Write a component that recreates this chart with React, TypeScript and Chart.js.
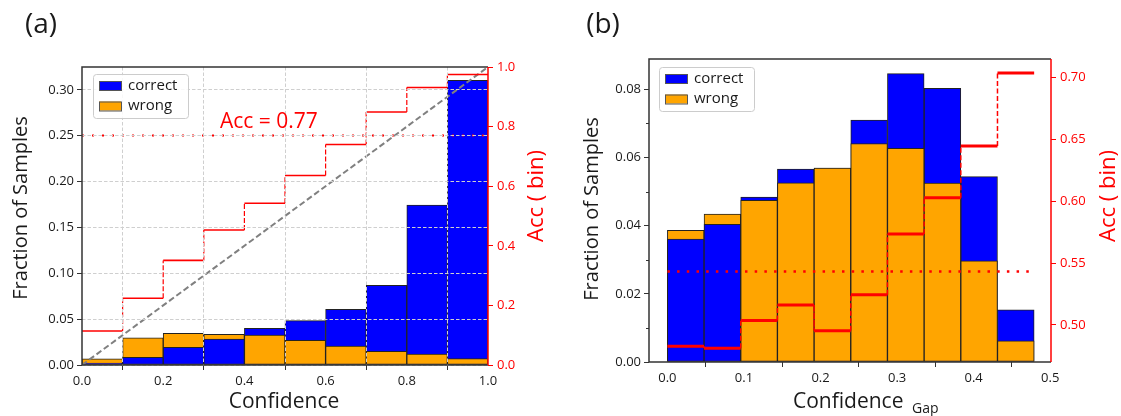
import React, { useEffect, useRef } from 'react';
import { Chart, registerables } from 'chart.js';

Chart.register(...registerables);

const FONT = '"Open Sans", "DejaVu Sans", sans-serif';
Chart.defaults.font.family = FONT;

const BLUE = '#0000ff';
const ORANGE = '#ffa500';
const RED = '#ff0000';
const INK = '#1a1a1a';
const EDGE = '#222222';

// ---------------- Panel (a) ----------------
const aBinEdges = [0, 0.1, 0.2, 0.3, 0.4, 0.5, 0.6, 0.7, 0.8, 0.9, 1.0];
const aCorrect = [0.002, 0.0084, 0.0193, 0.0284, 0.04, 0.0484, 0.0608, 0.087, 0.1743, 0.3104];
const aWrong = [0.0066, 0.0295, 0.0346, 0.0335, 0.0327, 0.027, 0.0207, 0.015, 0.012, 0.0069];
const aBinAcc = [0.114, 0.224, 0.351, 0.453, 0.543, 0.636, 0.74, 0.849, 0.931, 0.975];
const aOverallAcc = 0.77;
const aDiagonal = [0, 1];

// ---------------- Panel (b) ----------------
const bBinEdges = [0, 0.0479, 0.0958, 0.1437, 0.1916, 0.2395, 0.2874, 0.3353, 0.3832, 0.4311, 0.479];
const bCorrect = [0.0361, 0.0404, 0.0484, 0.0566, 0.0569, 0.071, 0.0846, 0.0803, 0.0544, 0.0153];
const bWrong = [0.0386, 0.0434, 0.0474, 0.0526, 0.0569, 0.0641, 0.0627, 0.0525, 0.0297, 0.0062];
const bBinAcc = [0.4827, 0.4811, 0.5035, 0.5161, 0.4952, 0.5243, 0.5734, 0.6029, 0.6446, 0.7037];
const bOverallAcc = 0.5432;
const bMinorTicks = [0.01, 0.03, 0.05, 0.07];

const legendLabels = ['correct', 'wrong'];

type TextItem = {
  text: string; x: number; y: number; size: number; color: string;
  align?: CanvasTextAlign; rotate?: boolean;
};

type Spec = {
  id: string;
  edges: number[]; correct: number[]; wrong: number[]; acc: number[];
  overall: number; overallTo: number; diagonal: number[] | null;
  top: number; leftW: number; rightW: number; xH: number;
  xMin: number; xMax: number; xStep: number; xDec: number;
  yMax: number; yStep: number; yDec: number;
  y1Min: number; y1Max: number; y1Step: number; y1Dec: number;
  grid: boolean;
  stepW: number; vW: number; vDash: number[];
  dotW: number; dotDash: number[];
  legendOff: [number, number];
  minor: number[];
  texts: TextItem[];
  annotation: { text: string; x: number; y: number } | null;
};

function buildStep(edges: number[], acc: number[]) {
  const pts: { x: number; y: number }[] = [];
  acc.forEach((v, i) => {
    pts.push({ x: edges[i], y: v });
    pts.push({ x: edges[i + 1], y: v });
  });
  return pts;
}

function makeChart(canvas: HTMLCanvasElement, s: Spec) {
  const centers = s.edges.slice(0, -1).map((e, i) => (e + s.edges[i + 1]) / 2);
  const back = centers.map((x, i) => ({ x, y: Math.max(s.correct[i], s.wrong[i]) }));
  const front = centers.map((x, i) => ({ x, y: Math.min(s.correct[i], s.wrong[i]) }));
  const backColors = centers.map((_, i) => (s.correct[i] >= s.wrong[i] ? BLUE : ORANGE));
  const frontColors = centers.map((_, i) => (s.correct[i] >= s.wrong[i] ? ORANGE : BLUE));

  const isV = (c: any) => c.p0.parsed.x === c.p1.parsed.x;

  const datasets: any[] = [
    {
      type: 'line', label: 'acc-bin', data: buildStep(s.edges, s.acc), yAxisID: 'y1',
      borderColor: RED, borderWidth: s.stepW, pointRadius: 0, tension: 0, fill: false, order: 0,
      segment: {
        borderDash: (c: any) => (isV(c) ? s.vDash : undefined),
        borderWidth: (c: any) => (isV(c) ? s.vW : undefined),
      },
    },
    {
      type: 'line', label: 'overall', data: [{ x: s.edges[0], y: s.overall }, { x: s.overallTo, y: s.overall }],
      yAxisID: 'y1', borderColor: RED, borderWidth: s.dotW, borderDash: s.dotDash, pointRadius: 0, fill: false, order: 1,
    },
  ];
  if (s.diagonal) {
    datasets.push({
      type: 'line', label: 'diag', data: s.diagonal.map((v) => ({ x: v, y: v })), yAxisID: 'y1',
      borderColor: '#808080', borderWidth: 2, borderDash: [6, 3], pointRadius: 0, fill: false, order: 2,
    });
  }
  const barCommon = {
    type: 'bar', yAxisID: 'y', borderColor: EDGE, borderWidth: 1, borderSkipped: false,
    grouped: false, categoryPercentage: 1, barPercentage: 1,
  };
  datasets.push({ ...barCommon, label: 'back', data: back, backgroundColor: backColors, order: 4 });
  datasets.push({ ...barCommon, label: 'front', data: front, backgroundColor: frontColors, order: 3 });

  const tickFont = { family: FONT, size: 13 };
  const gridOn = {
    display: true, drawOnChartArea: true, color: '#cfcfcf', lineWidth: 1, z: 1,
    drawTicks: true, tickLength: 5, tickColor: '#333', tickWidth: 1, tickBorderDash: [],
  };
  const gridOff = {
    display: true, drawOnChartArea: false, drawTicks: true, tickLength: 5, tickColor: '#333', tickWidth: 1,
  };

  const decor = {
    id: 'decor' + s.id,
    afterDraw(chart: any) {
      const ctx = chart.ctx as CanvasRenderingContext2D;
      const a = chart.chartArea;
      ctx.save();
      // minor ticks
      const ys = chart.scales.y;
      ctx.strokeStyle = '#333';
      ctx.lineWidth = 1;
      s.minor.forEach((v) => {
        const py = Math.round(ys.getPixelForValue(v)) + 0.5;
        ctx.beginPath();
        ctx.moveTo(a.left - 3, py);
        ctx.lineTo(a.left, py);
        ctx.stroke();
      });
      // frame
      ctx.lineWidth = 1.5;
      ctx.strokeStyle = '#333';
      ctx.beginPath();
      ctx.moveTo(a.right, a.top);
      ctx.lineTo(a.left, a.top);
      ctx.lineTo(a.left, a.bottom);
      ctx.lineTo(a.right, a.bottom);
      ctx.stroke();
      ctx.strokeStyle = RED;
      ctx.beginPath();
      ctx.moveTo(a.right, a.top);
      ctx.lineTo(a.right, a.bottom);
      ctx.stroke();
      // legend
      const lx = a.left + s.legendOff[0];
      const ly = a.top + s.legendOff[1];
      ctx.fillStyle = 'rgba(255,255,255,0.85)';
      ctx.strokeStyle = '#cccccc';
      ctx.lineWidth = 1;
      ctx.beginPath();
      (ctx as any).roundRect(lx + 0.5, ly + 0.5, 95, 44, 3);
      ctx.fill();
      ctx.stroke();
      const cols = [BLUE, ORANGE];
      ctx.font = `15px ${FONT}`;
      ctx.textBaseline = 'middle';
      ctx.textAlign = 'left';
      legendLabels.forEach((lab, i) => {
        const py = ly + 7 + i * 20.5;
        ctx.fillStyle = cols[i];
        ctx.fillRect(lx + 6, py, 22, 9);
        ctx.strokeStyle = '#555';
        ctx.strokeRect(lx + 6.5, py + 0.5, 22, 9);
        ctx.fillStyle = INK;
        ctx.fillText(lab, lx + 35, py + 4.5);
      });
      // annotation
      if (s.annotation) {
        ctx.fillStyle = RED;
        ctx.font = `21px ${FONT}`;
        ctx.textBaseline = 'alphabetic';
        ctx.textAlign = 'left';
        ctx.fillText(s.annotation.text, s.annotation.x, s.annotation.y);
      }
      // texts
      s.texts.forEach((t) => {
        ctx.save();
        ctx.fillStyle = t.color;
        ctx.font = `${t.size}px ${FONT}`;
        ctx.textBaseline = 'alphabetic';
        ctx.textAlign = t.align || 'center';
        ctx.translate(t.x, t.y);
        if (t.rotate) ctx.rotate(-Math.PI / 2);
        ctx.fillText(t.text, 0, 0);
        ctx.restore();
      });
      ctx.restore();
    },
  };

  return new Chart(canvas, {
    type: 'bar',
    data: { datasets },
    options: {
      responsive: false,
      animation: false,
      events: [],
      layout: { padding: { top: s.top, left: 0, right: 0, bottom: 0 } },
      plugins: { legend: { display: false }, tooltip: { enabled: false } },
      scales: {
        x: {
          type: 'linear', min: s.xMin, max: s.xMax, offset: false,
          ticks: {
            stepSize: s.xStep, includeBounds: false, font: tickFont, color: INK, padding: 3, maxRotation: 0,
            autoSkip: false, callback: (v: any) => Number(v).toFixed(s.xDec),
          },
          grid: s.grid ? gridOn : gridOff,
          border: { display: false, dash: [3.5, 2] },
          afterFit: (sc: any) => { sc.height = s.xH; },
        },
        y: {
          type: 'linear', position: 'left', min: 0, max: s.yMax,
          ticks: {
            stepSize: s.yStep, includeBounds: false, font: tickFont, color: INK, padding: 3,
            callback: (v: any) => Number(v).toFixed(s.yDec),
          },
          grid: s.grid ? gridOn : gridOff,
          border: { display: false, dash: [3.5, 2] },
          afterFit: (sc: any) => { sc.width = s.leftW; },
        },
        y1: {
          type: 'linear', position: 'right', min: s.y1Min, max: s.y1Max,
          ticks: {
            stepSize: s.y1Step, includeBounds: false, font: tickFont, color: RED, padding: 4,
            callback: (v: any) => Number(v).toFixed(s.y1Dec),
          },
          grid: { display: true, drawOnChartArea: false, drawTicks: true, tickLength: 5, tickColor: RED, tickWidth: 1 },
          border: { display: false },
          afterFit: (sc: any) => { sc.width = s.rightW; },
        },
      },
    } as any,
    plugins: [decor],
  });
}

const specA: Spec = {
  id: 'a',
  edges: aBinEdges, correct: aCorrect, wrong: aWrong, acc: aBinAcc,
  overall: aOverallAcc, overallTo: 1.0, diagonal: aDiagonal,
  top: 67, leftW: 82, rightW: 72, xH: 51,
  xMin: 0, xMax: 1, xStep: 0.2, xDec: 1,
  yMax: 0.325, yStep: 0.05, yDec: 2,
  y1Min: 0, y1Max: 1, y1Step: 0.2, y1Dec: 1,
  grid: true,
  stepW: 1.6, vW: 1.2, vDash: [5, 2],
  dotW: 2, dotDash: [2, 8],
  legendOff: [11, 7],
  minor: [],
  texts: [
    { text: '(a)', x: 41, y: 33, size: 28, color: INK },
    { text: 'Fraction of Samples', x: 27, y: 208, size: 20, color: INK, rotate: true },
    { text: 'Acc ( bin)', x: 543, y: 196, size: 22, color: RED, rotate: true },
    { text: 'Confidence', x: 284, y: 408, size: 21, color: INK },
  ],
  annotation: { text: `Acc = ${aOverallAcc.toFixed(2)}`, x: 220, y: 128 },
};

const specB: Spec = {
  id: 'b',
  edges: bBinEdges, correct: bCorrect, wrong: bWrong, acc: bBinAcc,
  overall: bOverallAcc, overallTo: bBinEdges[bBinEdges.length - 1], diagonal: null,
  top: 59, leftW: 89, rightW: 70, xH: 54,
  xMin: -0.024, xMax: 0.501, xStep: 0.1, xDec: 1,
  yMax: 0.0889, yStep: 0.02, yDec: 2,
  y1Min: 0.47, y1Max: 0.715, y1Step: 0.05, y1Dec: 2,
  grid: false,
  stepW: 3, vW: 1.5, vDash: [5, 2.5],
  dotW: 2.5, dotDash: [2.5, 7.2],
  legendOff: [10, 8],
  minor: bMinorTicks,
  texts: [
    { text: '(b)', x: 43, y: 33, size: 28, color: INK },
    { text: 'Fraction of Samples', x: 38, y: 209, size: 20, color: INK, rotate: true },
    { text: 'Acc ( bin)', x: 555, y: 196, size: 22, color: RED, rotate: true },
    { text: 'Confidence', x: 233, y: 408, size: 21, color: INK, align: 'left' },
    { text: 'Gap', x: 352, y: 413, size: 14, color: INK, align: 'left' },
  ],
  annotation: null,
};

export default function App() {
  const refA = useRef<HTMLCanvasElement>(null);
  const refB = useRef<HTMLCanvasElement>(null);
  useEffect(() => {
    const ca = makeChart(refA.current!, specA);
    const cb = makeChart(refB.current!, specB);
    return () => {
      ca.destroy();
      cb.destroy();
    };
  }, []);
  return (
    <div style={{ position: 'absolute', left: 0, top: 0, width: 1121, height: 416, background: '#fff' }}>
      <canvas ref={refA} width={560} height={416} style={{ position: 'absolute', left: 0, top: 0 }} />
      <canvas ref={refB} width={561} height={416} style={{ position: 'absolute', left: 560, top: 0 }} />
    </div>
  );
}
